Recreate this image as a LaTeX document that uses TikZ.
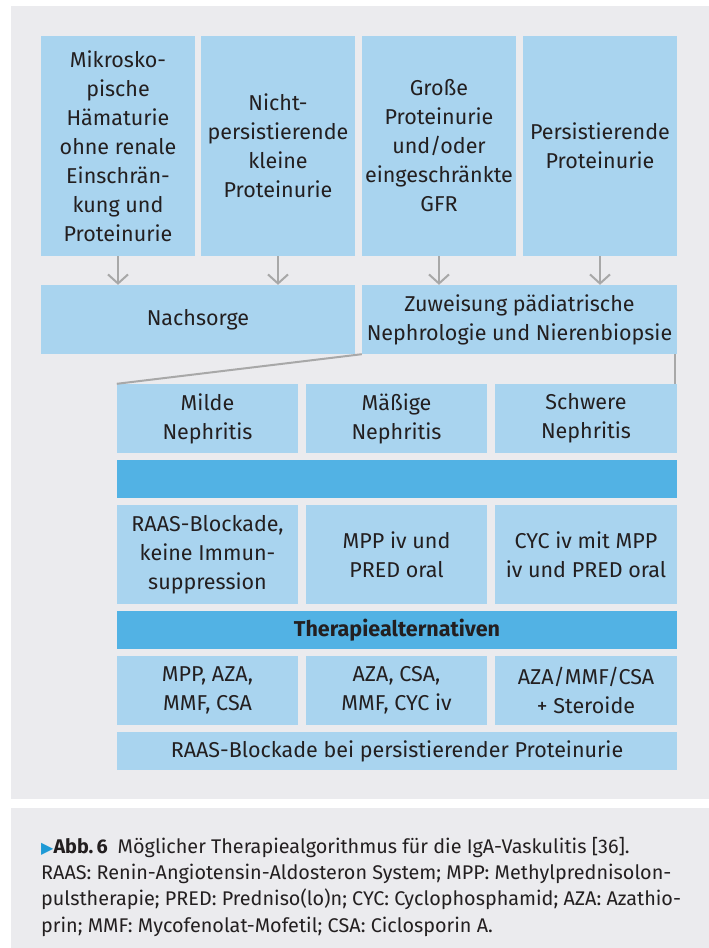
\documentclass[tikz,border=0pt]{standalone}
\usepackage{fontspec}
\setmainfont{Fira Sans}
\newfontfamily\symfont{DejaVu Sans}
\usetikzlibrary{arrows.meta}
\definecolor{bgray}{HTML}{EBEBEE}
\definecolor{lblue}{HTML}{A9D4EF}
\definecolor{dblue}{HTML}{52B2E4}
\definecolor{agray}{HTML}{A8A8A8}
\definecolor{txt}{HTML}{231F20}
\definecolor{tri}{HTML}{1E9AD6}
\tikzset{
  lb/.style={fill=lblue, inner sep=0pt, align=center, text=txt,
    font=\fontsize{21.5}{29}\selectfont},
  db/.style={fill=dblue, inner sep=0pt, align=center, text=txt,
    font=\fontsize{21.5}{29}\selectfont\bfseries},
  arr/.style={draw=agray, line width=2pt, -{Straight Barb[length=9pt,width=20pt,line width=2pt]}},
  con/.style={draw=agray, line width=2pt},
}
\begin{document}
\begin{tikzpicture}[x=1pt,y=-1pt]
\useasboundingbox (0,0) rectangle (709,948);
\fill[white] (0,0) rectangle (709,948);
\fill[bgray] (11,6) rectangle (709,799);
\fill[bgray] (11,808) rectangle (709,948);
% top row
\node[lb, minimum width=154, minimum height=220] (b1) at (118,146)
  {Mikrosko-\\pische\\Hämaturie\\ohne renale\\Einschrän-\\kung und\\Proteinurie};
\node[lb, minimum width=154, minimum height=220] (b2) at (278,146)
  {Nicht-\\persistierende\\kleine\\Proteinurie};
\node[lb, minimum width=154, minimum height=220] (b3) at (439,146)
  {Große\\Proteinurie\\und/oder\\eingeschränkte\\GFR};
\node[lb, minimum width=154, minimum height=220] (b4) at (600,146)
  {Persistierende\\Proteinurie};
% second row
\node[lb, minimum width=314, minimum height=69] (nach) at (198,319.5) {Nachsorge};
\node[lb, minimum width=315, minimum height=69] (zuw) at (519.5,319.5)
  {Zuweisung pädiatrische\\Nephrologie und Nierenbiopsie};
% arrows
\draw[arr] (b1.south) -- (b1.south |- nach.north);
\draw[arr] (b2.south) -- (b2.south |- nach.north);
\draw[arr] (b3.south) -- (b3.south |- zuw.north);
\draw[arr] (b4.south) -- (b4.south |- zuw.north);
% nephritis row
\node[lb, minimum width=181, minimum height=69] (mild) at (207.5,418.5) {Milde\\Nephritis};
\node[lb, minimum width=181, minimum height=69] (mass) at (396.5,418.5) {Mäßige\\Nephritis};
\node[lb, minimum width=182, minimum height=69] (schw) at (586,418.5) {Schwere\\Nephritis};
\draw[con] (zuw.south west) -- (mild.north west);
\draw[con] ([xshift=-2pt]zuw.south east) -- ([xshift=-2pt]schw.north east);
% bar 1
\node[db, minimum width=560, minimum height=38] (bar1) at (397,479) {};
% therapy row
\node[lb, minimum width=181, minimum height=99] (t1) at (207.5,554.5) {RAAS-Blockade,\\keine Immun-\\suppression};
\node[lb, minimum width=181, minimum height=99] (t2) at (396.5,554.5) {MPP iv und\\PRED oral};
\node[lb, minimum width=182, minimum height=99] (t3) at (586,554.5) {CYC iv mit MPP\\iv und PRED oral};
% bar 2
\node[db, minimum width=560, minimum height=38] (bar2) at (397,630) {Therapiealternativen};
% alternatives
\node[lb, minimum width=181, minimum height=69] (a1) at (207.5,690.5) {MPP, AZA,\\MMF, CSA};
\node[lb, minimum width=181, minimum height=69] (a2) at (396.5,690.5) {AZA, CSA,\\MMF, CYC iv};
\node[lb, minimum width=182, minimum height=69] (a3) at (586,690.5) {AZA/MMF/CSA\\+ Steroide};
\node[lb, minimum width=560, minimum height=38] (raas) at (397,751) {RAAS-Blockade bei persistierender Proteinurie};
% caption
\node[anchor=north west, inner sep=0pt, align=left, text=txt,
  font=\fontsize{19.8}{26.3}\selectfont] (cap) at (41,837)
  {{\color{tri}\symfont\fontsize{16}{26}\selectfont ▶}\textbf{Abb.\,6}\enspace Möglicher Therapiealgorithmus für die IgA-Vaskulitis [36].\\
   RAAS: Renin-Angiotensin-Aldosteron System; MPP: Methylprednisolon-\\
   pulstherapie; PRED: Predniso(lo)n; CYC: Cyclophosphamid; AZA: Azathio-\\
   prin; MMF: Mycofenolat-Mofetil; CSA: Ciclosporin A.};
\end{tikzpicture}
\end{document}
